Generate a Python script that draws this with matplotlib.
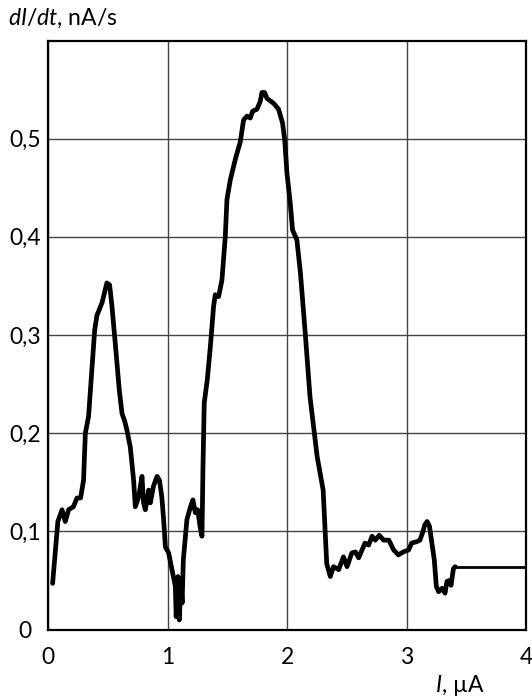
import matplotlib
matplotlib.use("Agg")
import matplotlib.pyplot as plt

plt.rcParams['font.family'] = ['Lato', 'DejaVu Sans']
plt.rcParams['mathtext.fontset'] = 'custom'
plt.rcParams['mathtext.it'] = 'Lato:italic'
plt.rcParams['mathtext.rm'] = 'Lato'

current_uA = [0.036, 0.06, 0.08, 0.115, 0.142, 0.17, 0.21, 0.24, 0.27, 0.295, 0.31, 0.337,
              0.365, 0.388, 0.407, 0.45, 0.47, 0.49, 0.513, 0.533, 0.56, 0.594, 0.617, 0.64,
              0.658, 0.686, 0.714, 0.728, 0.756, 0.784, 0.797, 0.812, 0.84, 0.854, 0.88, 0.91,
              0.93, 0.95, 0.965, 0.98, 1.007, 1.035, 1.063, 1.07, 1.085, 1.096, 1.11, 1.12,
              1.13, 1.16, 1.19, 1.21, 1.23, 1.25, 1.27, 1.286, 1.294, 1.305, 1.33, 1.356,
              1.383, 1.397, 1.425, 1.453, 1.481, 1.495, 1.523, 1.565, 1.607, 1.634, 1.663,
              1.69, 1.71, 1.746, 1.774, 1.788, 1.81, 1.83, 1.885, 1.927, 1.96, 1.978, 1.997,
              2.025, 2.044, 2.08, 2.11, 2.15, 2.19, 2.25, 2.30, 2.33, 2.36, 2.387, 2.43, 2.47,
              2.5, 2.54, 2.57, 2.597, 2.625, 2.65, 2.68, 2.71, 2.736, 2.77, 2.806, 2.85, 2.89,
              2.93, 2.97, 3.015, 3.04, 3.085, 3.11, 3.135, 3.15, 3.17, 3.19, 3.21, 3.23, 3.247,
              3.266, 3.295, 3.32, 3.336, 3.36, 3.37, 3.39, 3.405]
rate_nA_s = [0.047, 0.081, 0.11, 0.122, 0.11, 0.122, 0.125, 0.134, 0.134, 0.152, 0.20, 0.217,
             0.265, 0.305, 0.32, 0.333, 0.343, 0.353, 0.351, 0.329, 0.292, 0.244, 0.22, 0.212,
             0.203, 0.186, 0.152, 0.125, 0.135, 0.156, 0.129, 0.122, 0.142, 0.129, 0.146, 0.156,
             0.152, 0.135, 0.112, 0.084, 0.078, 0.061, 0.044, 0.013, 0.054, 0.0097, 0.047, 0.027,
             0.071, 0.112, 0.125, 0.132, 0.119, 0.122, 0.105, 0.095, 0.163, 0.231, 0.254, 0.288,
             0.329, 0.341, 0.339, 0.356, 0.40, 0.438, 0.458, 0.479, 0.497, 0.519, 0.523,
             0.521, 0.528, 0.53, 0.538, 0.547, 0.547, 0.541, 0.536, 0.53, 0.516, 0.499, 0.465,
             0.434, 0.407, 0.397, 0.363, 0.302, 0.237, 0.176, 0.142, 0.067, 0.054, 0.064, 0.061, 0.074,
             0.064, 0.078, 0.079, 0.073, 0.081, 0.088, 0.086, 0.095, 0.091, 0.096, 0.091, 0.091, 0.081,
             0.076, 0.079, 0.081, 0.088, 0.0895, 0.091, 0.0997, 0.1065, 0.11, 0.105, 0.088, 0.071, 0.044,
             0.0385, 0.042, 0.037, 0.049, 0.05, 0.045, 0.062, 0.064]
tail_x = [3.405, 4.0]
tail_y = [0.064, 0.064]

x_ticks = [0, 1, 2, 3, 4]
x_ticklabels = ['0', '1', '2', '3', '4']
y_ticks = [0, 0.1, 0.2, 0.3, 0.4, 0.5]
y_ticklabels = ['0', '0,1', '0,2', '0,3', '0,4', '0,5']

W, H = 532, 698
fig = plt.figure(figsize=(W / 100, H / 100), dpi=100)
ax = fig.add_axes([48.3 / W, 1 - 629.5 / H, (526.3 - 48.3) / W, (629.5 - 40.5) / H])

ax.set_xlim(0, 4)
ax.set_ylim(0, 0.6)
ax.set_xticks(x_ticks)
ax.set_xticklabels(x_ticklabels)
ax.set_yticks(y_ticks)
ax.set_yticklabels(y_ticklabels)
ax.tick_params(length=0, labelsize=16.5, colors='black')
ax.tick_params(axis='x', pad=12.5)
ax.tick_params(axis='y', pad=16.5)
for lbl in ax.get_yticklabels():
    lbl.set_horizontalalignment('center')
ax.grid(True, color='#444444', linewidth=1.0)
ax.set_axisbelow(True)
for s in ax.spines.values():
    s.set_linewidth(1.6)
    s.set_color('black')

ax.plot(current_uA, rate_nA_s, color='black', linewidth=3.4,
        solid_joinstyle='round', solid_capstyle='round', zorder=3)
ax.plot(tail_x, tail_y, color='black', linewidth=2.0, zorder=3)

fig.text(8 / W, 1 - 18 / H, r'$\mathit{dI/dt}$, nA/s', ha='left', va='center', fontsize=16.5)
fig.text(460 / W, 1 - 686 / H, r'$\mathit{I}$, µA', ha='center', va='center', fontsize=16.5)

fig.savefig('out.png', dpi=100)
